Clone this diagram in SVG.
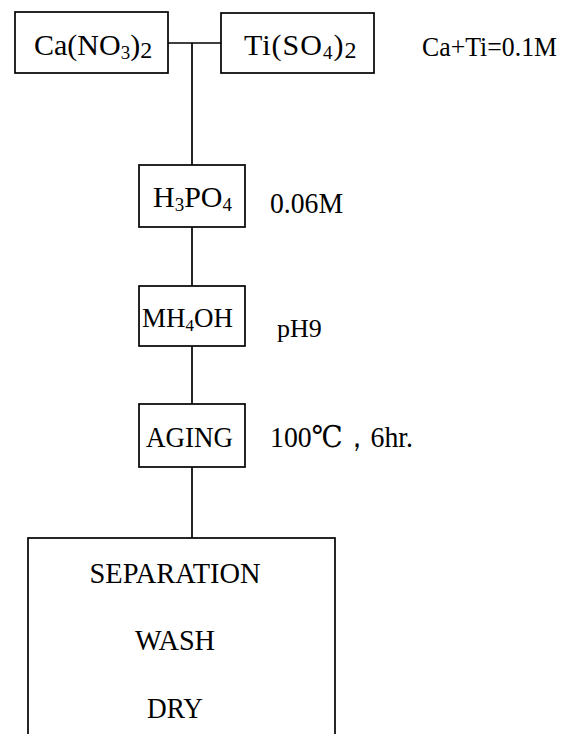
<svg xmlns="http://www.w3.org/2000/svg" width="574" height="734" viewBox="0 0 574 734">
<style>
.box{fill:#fff;stroke:#000;stroke-width:1.7}
.ln{fill:none;stroke:#000;stroke-width:1.7}
.t{font-family:'Liberation Serif','DejaVu Serif',serif;font-size:30px;fill:#000}
.c{text-anchor:middle}
.sub{font-size:19px}
.sub2{font-size:24px}
</style>
<rect width="574" height="734" fill="#fff"/>
<g id="connectors">
<path class="ln" d="M168 43H221M192 43V165M192 227V286M192 346V404M192 467V538"/>
</g>
<g class="t" font-family="Liberation Serif, DejaVu Serif, serif">
<g id="ca">
<rect class="box" x="15" y="12" width="153" height="61"/>
<text x="34" y="55">Ca(NO<tspan class="sub" dy="4">3</tspan><tspan dy="-4">)</tspan><tspan class="sub2" dy="3">2</tspan></text>
</g>
<g id="ti">
<rect class="box" x="221" y="13" width="153" height="60"/>
<text x="244" y="55" letter-spacing="1">Ti(SO<tspan class="sub" dy="4">4</tspan><tspan dy="-4">)</tspan><tspan class="sub2" dy="3">2</tspan></text>
</g>
<text x="422" y="56" font-size="28" textLength="135" lengthAdjust="spacingAndGlyphs">Ca+Ti=0.1M</text>
<g id="h3po4">
<rect class="box" x="139" y="165" width="106" height="62"/>
<text x="153" y="207">H<tspan class="sub" dy="4">3</tspan><tspan dy="-4">PO</tspan><tspan class="sub" dy="4">4</tspan></text>
</g>
<text x="270" y="213" textLength="73" lengthAdjust="spacingAndGlyphs">0.06M</text>
<g id="mh4oh">
<rect class="box" x="139" y="286" width="106" height="60"/>
<text x="142" y="327" font-size="27">MH<tspan font-size="17" dy="4">4</tspan><tspan dy="-4">OH</tspan></text>
</g>
<text x="277" y="337" font-size="26">pH9</text>
<g id="aging">
<rect class="box" x="139" y="404" width="106" height="63"/>
<text x="146" y="447" textLength="87" lengthAdjust="spacingAndGlyphs">AGING</text>
</g>
<text x="270" y="447" textLength="143" lengthAdjust="spacingAndGlyphs">100℃，6hr.</text>
<g id="final">
<rect class="box" x="28" y="538" width="307" height="210"/>
<text class="c" x="175" y="583" textLength="171" lengthAdjust="spacingAndGlyphs">SEPARATION</text>
<text class="c" x="175" y="650" textLength="80" lengthAdjust="spacingAndGlyphs">WASH</text>
<text class="c" x="175" y="718" textLength="56" lengthAdjust="spacingAndGlyphs">DRY</text>
</g>
</g>
</svg>
